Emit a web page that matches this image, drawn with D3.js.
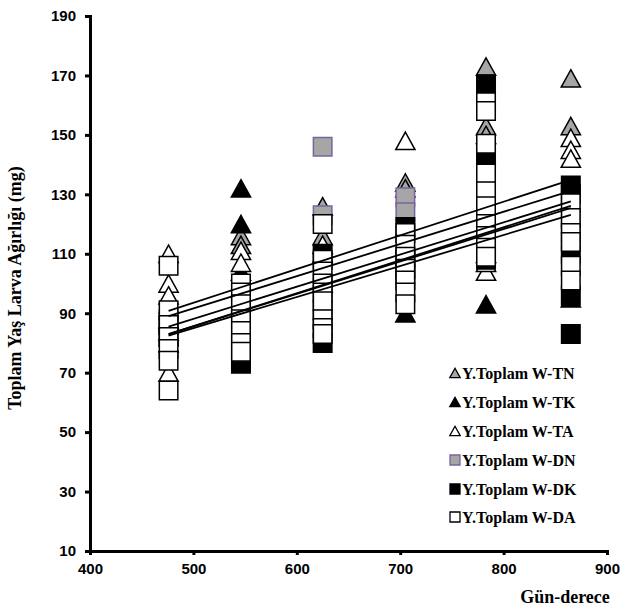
<!DOCTYPE html>
<html>
<head>
<meta charset="utf-8">
<script src="https://cdn.jsdelivr.net/npm/d3@7"></script>
<style>
  body { margin: 0; background: #fff; }
  .tick text { font-family: "Liberation Sans", Arial, sans-serif; font-weight: bold; font-size: 15px; }
  .axisTitle, .legText { font-family: "Liberation Serif", "Times New Roman", serif; font-weight: bold; }
</style>
</head>
<body>
<div id="chart"></div>
<script>
var svgWidth = 622;
var svgHeight = 610;

// day-degree positions of the sampling columns
var xDays = [476, 546, 625, 705, 783, 865];

var seriesNames = ["Y.Toplam W-TN", "Y.Toplam W-TK", "Y.Toplam W-TA",
                   "Y.Toplam W-DN", "Y.Toplam W-DK", "Y.Toplam W-DA"];

// replicate values (mg) per column, one array per series
var tnValues = [[88, 93], [116, 113], [126, 116], [134, 132], [173, 153, 150], [169, 153]];
var tkValues = [[84, 80], [132, 120, 104], [100], [90], [93], [95]];
var taValues = [[110, 100, 96, 70], [111, 107], [113, 110], [148], [104, 107, 110], [149, 145, 142]];
var dnValues = [[88], [], [146, 123], [129, 124], [], [120]];
var dkValues = [[82, 86], [73, 90], [110, 91, 80], [119, 108, 103], [167, 142, 108], [133, 130, 110, 96, 83]];
var daValues = [[106, 91, 86, 82, 78, 74, 64], [100, 97, 93, 88, 84, 80, 77],
                [120, 108, 104, 100, 97, 94, 88, 85, 83], [117, 113, 109, 105, 101, 97, 93],
                [161, 158, 147, 137, 131, 126, 120, 116, 112, 109], [127, 122, 117, 114, 106, 101]];

// trend line values read at the first and last column
var trendStart = [90.8, 89, 85.5, 83, 83, 82.5];
var trendEnd = [134.9, 131.2, 127.6, 126.1, 125.4, 123.1];

var xTicks = [400, 500, 600, 700, 800, 900];
var yTicks = [10, 30, 50, 70, 90, 110, 130, 150, 170, 190];

var allValues = [tnValues, tkValues, taValues, dnValues, dkValues, daValues];
var shapes = ["tri", "tri", "tri", "sq", "sq", "sq"];
var fills = ["#a6a6a6", "#000000", "#ffffff", "#a6a6a6", "#000000", "#ffffff"];
var strokes = ["#000000", "#000000", "#000000", "#7a64a0", "#000000", "#000000"];

var svg = d3.select("#chart")
  .append("svg")
  .attr("width", svgWidth)
  .attr("height", svgHeight);

var xScale = d3.scaleLinear().domain([400, 900]).range([90, 607]);
var yScale = d3.scaleLinear().domain([10, 190]).range([551, 16]);

function markerPath(shape, s) {
  if (shape === "tri") {
    return "M0," + (-s * 0.47) + "L" + (s * 0.52) + "," + (s * 0.47) + "L" + (-s * 0.52) + "," + (s * 0.47) + "Z";
  }
  var h = s / 2;
  return "M" + (-h) + "," + (-h) + "H" + h + "V" + h + "H" + (-h) + "Z";
}

// points, series by series
allValues.forEach(function(vals, si) {
  var pts = [];
  vals.forEach(function(col, ci) {
    col.forEach(function(v) { pts.push({x: xDays[ci], y: v}); });
  });
  svg.append("g")
    .selectAll("path")
    .data(pts)
    .enter()
    .append("path")
    .attr("d", markerPath(shapes[si], 18.5))
    .attr("transform", function(d) { return "translate(" + xScale(d.x) + "," + yScale(d.y) + ")"; })
    .attr("fill", fills[si])
    .attr("stroke", strokes[si])
    .attr("stroke-width", 1.5);
});

// trend lines
var x0 = xDays[0], x1 = xDays[xDays.length - 1];
svg.append("g")
  .selectAll("line")
  .data(trendStart)
  .enter()
  .append("line")
  .attr("x1", xScale(x0))
  .attr("x2", xScale(x1))
  .attr("y1", function(d) { return yScale(d); })
  .attr("y2", function(d, i) { return yScale(trendEnd[i]); })
  .attr("stroke", "#000")
  .attr("stroke-width", 1.8);

// axes
var bottomAxis = d3.axisBottom(xScale).tickValues(xTicks).tickSize(4).tickPadding(6);
var leftAxis = d3.axisLeft(yScale).tickValues(yTicks).tickSize(5).tickPadding(6);

var gx = svg.append("g")
  .attr("transform", "translate(0," + 551 + ")")
  .call(bottomAxis);
var gy = svg.append("g")
  .attr("transform", "translate(" + 90 + ",0)")
  .call(leftAxis);

[gx, gy].forEach(function(g) {
  g.select(".domain").attr("stroke", "#000").attr("stroke-width", 3);
  g.selectAll(".tick line").attr("stroke", "#000").attr("stroke-width", 3);
  g.selectAll(".tick text").attr("fill", "#000");
});
gy.selectAll(".tick text").attr("dx", "-3");
gx.selectAll(".tick text").attr("dy", "0.85em");

// axis titles
svg.append("text")
  .attr("class", "axisTitle")
  .attr("transform", "translate(21," + 288 + ") rotate(-90)")
  .style("text-anchor", "middle")
  .attr("font-size", "18px")
  .text("Toplam Yaş Larva Ağırlığı (mg)");

svg.append("text")
  .attr("class", "axisTitle")
  .attr("x", 565)
  .attr("y", 603)
  .style("text-anchor", "middle")
  .attr("font-size", "18px")
  .text("Gün-derece");

// legend
var legY = [373, 402, 431, 460, 489, 517];
var legend = svg.append("g");
seriesNames.forEach(function(name, i) {
  legend.append("path")
    .attr("d", markerPath(shapes[i], 10))
    .attr("transform", "translate(455," + legY[i] + ")")
    .attr("fill", fills[i])
    .attr("stroke", strokes[i])
    .attr("stroke-width", 1.3);
  legend.append("text")
    .attr("class", "legText")
    .attr("x", 462)
    .attr("y", legY[i])
    .attr("dy", "0.35em")
    .attr("font-size", "16px")
    .text(name);
});
</script>
</body>
</html>
